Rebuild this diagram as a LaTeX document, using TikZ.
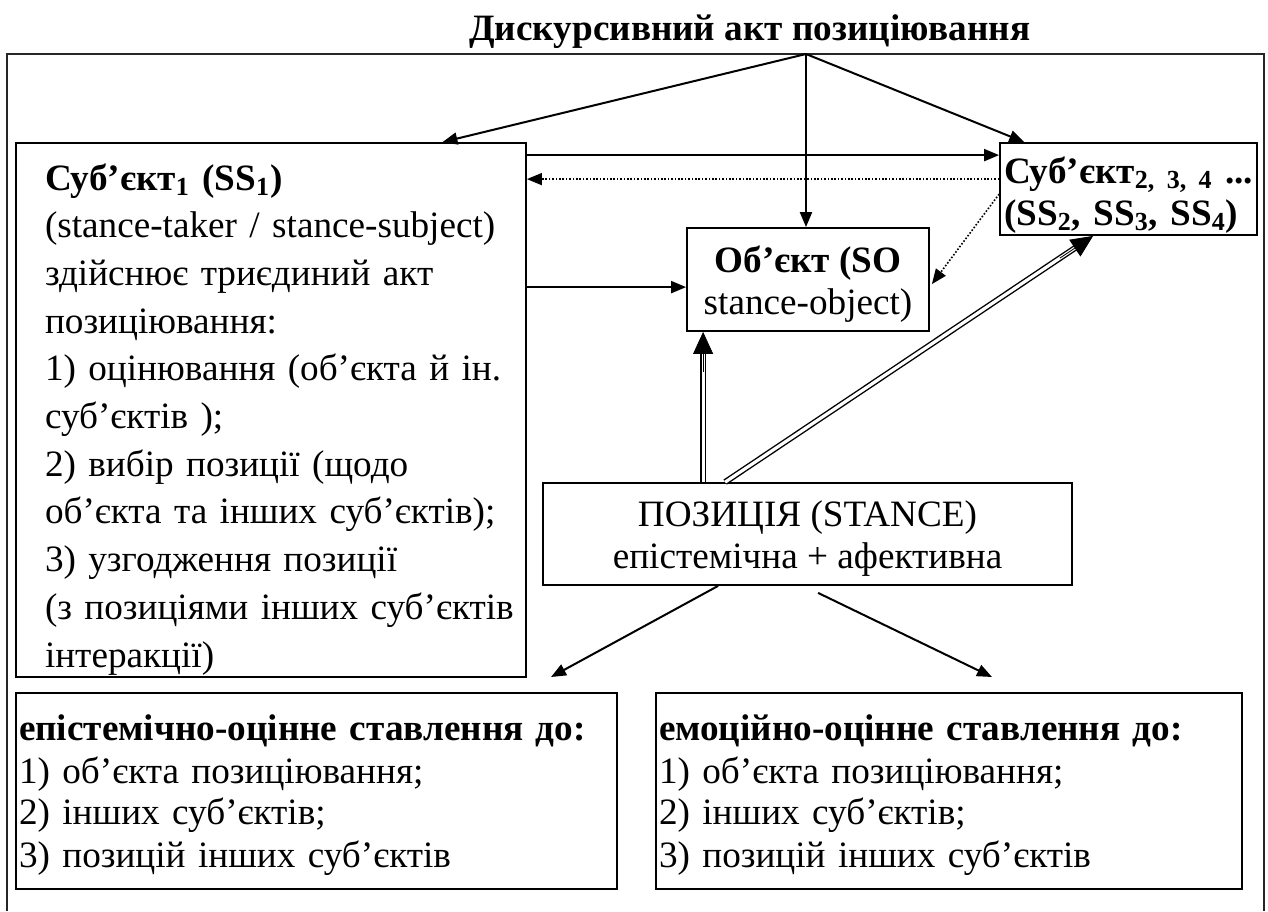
\documentclass[tikz,border=0pt]{standalone}
\usepackage{fontspec}
\setmainfont{Liberation Serif}
\usetikzlibrary{arrows.meta,calc}
% strut that pushes the first line of a box down
\newcommand\firstline[1]{\rule{0pt}{#1}}
\begin{document}
\begin{tikzpicture}[x=0.5pt,y=-0.5pt,
  box/.style={draw, line width=0.9pt, inner ysep=0pt},
  txt/.style={font=\fontsize{18.6}{21}\selectfont},
  arr/.style={line width=1pt, -{Triangle[length=7.5pt,width=6pt]}},
  dotarr/.style={line width=0.8pt, dash pattern=on 0.8pt off 0.9pt, -{Triangle[length=7.5pt,width=6pt]}},
  dbl/.style={line width=0.7pt, double=white, double distance=1.6pt, shorten >=9pt},
  dblhead/.style={line width=0.4pt, -{Triangle[length=11pt,width=10pt]}},
]
\useasboundingbox (0,0) rectangle (1268,911);

% outer frame, open at the bottom
\draw[line width=1.2pt, black!85] (7,911) -- (7,54) -- (1264,54) -- (1264,911);

% title
\node[font=\fontsize{18.6}{21}\selectfont\bfseries, anchor=base, inner sep=0pt] (title) at (750,40)
  {Дискурсивний акт позиціювання};
\coordinate (apex) at (806,54);

% subject 1
\node[box, minimum width=255pt, minimum height=267pt, text width=226pt, inner xsep=14.5pt,
      align=left, font=\fontsize{18.6}{23.85}\selectfont] (ss1) at (271,410)
  {\firstline{22.5pt}\textbf{Суб’єкт\textsubscript{1} (SS\textsubscript{1})}\\
   \mbox{(stance-taker / stance-subject)}\\
   здійснює триєдиний акт\\
   позиціювання:\\
   \mbox{1) оцінювання (об’єкта й ін.}\\
   суб’єктів );\\
   2) вибір позиції (щодо\\
   \mbox{об’єкта та інших суб’єктів);}\\
   3) узгодження позиції\\
   \mbox{(з позиціями інших суб’єктів}\\
   інтеракції)};

% other subjects
\node[box, txt, minimum width=128.5pt, minimum height=46pt, text width=124.5pt, inner xsep=2pt,
      align=left] (ss2) at (1128.5,189)
  {\mbox{\firstline{19pt}\textbf{Суб’єкт\textsubscript{2, 3, 4} ...}}\\
   \mbox{\textbf{(SS\textsubscript{2}, SS\textsubscript{3}, SS\textsubscript{4})}}};

% object
\node[box, txt, minimum width=121pt, minimum height=51.5pt, align=center] (obj) at (808,279.5)
  {\firstline{18pt}\textbf{Об’єкт (SO}\\stance-object)};

% stance
\node[box, txt, minimum width=264.5pt, minimum height=51pt, align=center] (stance) at (807.5,534)
  {\firstline{17pt}ПОЗИЦІЯ (STANCE)\\епістемічна + афективна};

% two kinds of evaluative attitude
\node[box, txt, minimum width=300.5pt, minimum height=98pt, text width=297.5pt, inner xsep=1.5pt,
      align=left] (epi) at (316.5,791)
  {\firstline{17pt}\textbf{епістемічно-оцінне ставлення до:}\\
   1) об’єкта позиціювання;\\
   2) інших суб’єктів;\\
   3) позицій інших суб’єктів};
\node[box, txt, minimum width=293pt, minimum height=98pt, text width=290pt, inner xsep=1.5pt,
      align=left] (emo) at (949,791)
  {\firstline{17pt}\textbf{емоційно-оцінне ставлення до:}\\
   1) об’єкта позиціювання;\\
   2) інших суб’єктів;\\
   3) позицій інших суб’єктів};

% arrows from the discursive act
\draw[arr] (apex) -- ($(ss1.north west)!0.835!(ss1.north east)$);
\draw[arr] (apex) -- (apex |- obj.north);
\draw[arr] (apex) -- ($(ss2.north west)!0.097!(ss2.north east)$);

% relations between subjects and object
\draw[arr] ($(ss1.north east)+(0,13)$) coordinate (a1) -- (a1 -| ss2.west);
\draw[dotarr] ($(ss2.north west)+(0,37)$) coordinate (d1) -- (d1 -| ss1.east);
\draw[dotarr] ($(ss2.north west)+(0,52)$) -- ($(obj.north east)+(2,57)$);
\draw[arr] ($(ss1.north east)+(0,145)$) coordinate (a2) -- (a2 -| obj.west);

% stance towards object and other subjects
\coordinate (s1) at ($(stance.north west)+(161,0)$);
\coordinate (s1e) at (s1 |- obj.south);
\draw[dbl] (s1) -- (s1e);
\draw[dblhead] ($(s1e)!20pt!(s1)$) -- (s1e);
\coordinate (s2) at ($(stance.north west)+(183,0)$);
\coordinate (s2e) at ($(ss2.south west)+(94,0)$);
\draw[dbl] (s2) -- (s2e);
\draw[dblhead] ($(s2e)!20pt!(s2)$) -- (s2e);

% stance splits into two attitudes
\coordinate (tipL) at (551,677);
\coordinate (tipR) at (992,677);
\draw[arr] ($(stance.south west)+(176,0)$) -- (tipL);
\draw[arr] ($(stance.south west)+(276,7)$) -- (tipR);
\end{tikzpicture}
\end{document}
